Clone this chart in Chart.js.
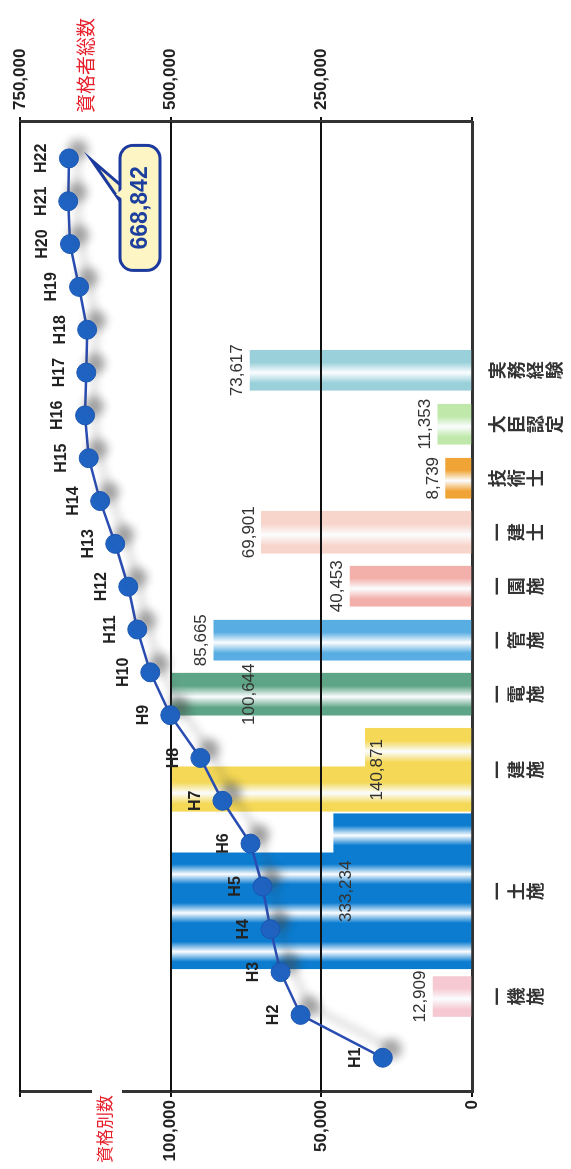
<!DOCTYPE html>
<html lang="ja">
<head>
<meta charset="utf-8">
<title>資格者総数と資格別数</title>
<script src="https://cdn.jsdelivr.net/npm/chart.js@4.4.1/dist/chart.umd.min.js"></script>
<style>
  html, body { margin: 0; padding: 0; background: #fff; overflow: hidden; }
  /* the chart is laid out landscape and turned a quarter turn to the left */
  #wrap {
    position: absolute; left: 0; top: 0;
    width: 1169px; height: 571px;
    transform-origin: 0 0;
    transform: translate(0, 1169px) rotate(-90deg);
  }
</style>
</head>
<body>
<div id="wrap"><canvas id="chart" width="1169" height="571"></canvas></div>
<script>
// 資格者総数 by year (right axis)
const years = ['H1', 'H2', 'H3', 'H4', 'H5', 'H6', 'H7', 'H8', 'H9', 'H10', 'H11',
  'H12', 'H13', 'H14', 'H15', 'H16', 'H17', 'H18', 'H19', 'H20', 'H21', 'H22'];
const totals = [148000, 284400, 317600, 334300, 347600, 367500, 414100, 450700, 500600,
  533800, 555400, 570400, 592000, 617000, 636000, 642000, 640000, 638600, 652000,
  667000, 670000, 668842];

// 資格別数 (left axis)
const quals = ['一機施', '一土施', '一建施', '一電施', '一管施', '一園施', '一建士', '技術士', '大臣認定', '実務経験'];
const qualCounts = [12909, 333234, 140871, 100644, 85665, 40453, 69901, 8739, 11353, 73617];

const countTicks = [0, 50000, 100000, 150000];
const countTickLabels = ['0', '50,000', '100,000', ''];
const totalTicks = [0, 250000, 500000, 750000];
const totalTickLabels = ['', '250,000', '500,000', '750,000'];

// ---- look ----
const LATIN = '"Liberation Sans", Arial, sans-serif';
const CJK = '"Noto Sans CJK JP", "Noto Sans", sans-serif';
const barColors = ['#f6c9d2', '#0b7cd0', '#f4d856', '#5ea486', '#58ade2', '#f3b0aa',
  '#f8d5cb', '#f0a436', '#bfe8aa', '#99d0da'];
const barSlots = [1.2, 2.7, 1.8, 1, 1, 1, 1, 1, 1, 1];   // room per bar along the axis
const barPx = [40, 155, 83, 42, 40, 40, 42, 40, 40, 40];
const breakAt = 100000;                                   // taller bars are cut here
const breakStyle = {
  '一土施': { notchTo: 46000, notch: 0.25 },
  '一建施': { notchTo: 35500, notch: 0.46 },
  '一電施': { notchTo: 78000, notch: 0 }
};

const slotCenters = [];
barSlots.reduce((start, w) => { slotCenters.push(start + w / 2); return start + w; }, 0);

function stripes(chart, i) {
  if (!chart.chartArea) return barColors[i];
  const cx = chart.scales.xq.getPixelForValue(slotCenters[i]);
  const w = barPx[i];
  const g = chart.ctx.createLinearGradient(cx - w / 2, 0, cx + w / 2, 0);
  const n = Math.max(1, Math.round(w / 40));
  for (let k = 0; k < n; k++) {
    g.addColorStop(k / n, barColors[i]);
    g.addColorStop((k + 0.18) / n, barColors[i]);
    g.addColorStop((k + 0.44) / n, '#fbfdff');
    g.addColorStop((k + 0.7) / n, barColors[i]);
    g.addColorStop((k + 1) / n, barColors[i]);
  }
  return g;
}

const barSets = quals.map((q, i) => ({
  type: 'bar',
  label: q,
  data: [{ x: slotCenters[i], y: qualCounts[i] }],
  xAxisID: 'xq',
  yAxisID: 'yq',
  barThickness: barPx[i],
  grouped: false,
  order: 1,
  backgroundColor: ctx => stripes(ctx.chart, i)
}));

const lineSet = {
  type: 'line',
  label: '資格者総数',
  data: totals.map((v, i) => ({ x: i, y: v })),
  xAxisID: 'xl',
  yAxisID: 'yt',
  borderColor: '#2a4db2',
  borderWidth: 2.5,
  pointRadius: 9.5,
  pointBackgroundColor: '#1f63c3',
  pointBorderColor: '#1b56b0',
  pointBorderWidth: 1,
  order: 0
};

// bars over the break value stop at the break line
const barBreak = {
  id: 'barBreak',
  afterDatasetsUpdate(chart) {
    const yq = chart.scales.yq;
    chart.data.datasets.forEach((ds, i) => {
      if (ds.type !== 'bar') return;
      chart.getDatasetMeta(i).data.forEach((el, j) => {
        if (ds.data[j].y > breakAt) el.y = yq.getPixelForValue(breakAt);
      });
    });
  }
};

const decorations = {
  id: 'decorations',
  beforeDatasetDraw(chart, args) {
    if (args.meta.type !== 'line') return;
    const { ctx, chartArea, scales: { yq } } = chart;

    // white notches on the cut bars
    quals.forEach((q, i) => {
      const st = breakStyle[q];
      if (!st || !st.notch) return;
      const el = chart.getDatasetMeta(i).data[0];
      const right = el.x + el.width / 2;
      const w = el.width * st.notch;
      const yBot = yq.getPixelForValue(st.notchTo);
      ctx.fillStyle = '#fff';
      ctx.fillRect(right - w, el.y - 2, w + 1, yBot - el.y + 2);
    });

    // grid lines run over the bars
    ctx.save();
    ctx.strokeStyle = '#111';
    ctx.lineWidth = 2;
    countTicks.slice(1).forEach(v => {
      const y = Math.round(yq.getPixelForValue(v));
      ctx.beginPath();
      ctx.moveTo(chartArea.left, y);
      ctx.lineTo(chartArea.right, y);
      ctx.stroke();
    });
    ctx.restore();

    // value labels
    ctx.save();
    ctx.fillStyle = '#333';
    ctx.font = '17px ' + LATIN;
    ctx.textAlign = 'center';
    quals.forEach((q, i) => {
      const el = chart.getDatasetMeta(i).data[0];
      const text = qualCounts[i].toLocaleString('en-US');
      const st = breakStyle[q];
      if (st) {
        ctx.textBaseline = 'top';
        ctx.fillText(text, el.x, yq.getPixelForValue(st.notchTo) + 4);
      } else {
        ctx.textBaseline = 'bottom';
        ctx.fillText(text, el.x, el.y - 4);
      }
    });
    ctx.restore();

    // soft shadow under the line markers
    ctx.save();
    ctx.shadowColor = 'rgba(70,70,70,0.45)';
    ctx.shadowBlur = 8;
    ctx.shadowOffsetX = 9;
    ctx.shadowOffsetY = 9;
  },
  afterDatasetDraw(chart, args) {
    if (args.meta.type !== 'line') return;
    const ctx = chart.ctx;
    ctx.restore();

    const pts = args.meta.data;
    ctx.save();
    ctx.fillStyle = '#222';
    ctx.font = 'bold 16px ' + LATIN;
    ctx.textAlign = 'center';
    ctx.textBaseline = 'middle';
    pts.forEach((p, i) => ctx.fillText(years[i], p.x, p.y - 27));

    // callout for the latest total
    const p = pts[pts.length - 1];
    const bx = p.x - 112, by = p.y + 51, bw = 125, bh = 40;
    ctx.lineWidth = 3;
    ctx.strokeStyle = '#1c3a9e';
    ctx.fillStyle = '#fdf6c4';
    ctx.beginPath();
    ctx.moveTo(p.x - 44, by + 1);
    ctx.lineTo(p.x - 2, p.y + 23);
    ctx.lineTo(p.x - 27, by + 1);
    ctx.closePath();
    ctx.fill();
    ctx.stroke();
    ctx.beginPath();
    ctx.roundRect(bx, by, bw, bh, 13);
    ctx.fill();
    ctx.stroke();
    ctx.beginPath();
    ctx.moveTo(p.x - 41, by + 3);
    ctx.lineTo(p.x - 30, by + 3);
    ctx.lineTo(p.x - 36, by - 4);
    ctx.closePath();
    ctx.fill();
    ctx.fillStyle = '#1d3f9e';
    ctx.font = 'bold 23px ' + LATIN;
    ctx.fillText(totals[totals.length - 1].toLocaleString('en-US'), bx + bw / 2, by + bh / 2 + 1);
    ctx.restore();
  },
  afterDraw(chart) {
    const { ctx, chartArea } = chart;
    ctx.save();
    ctx.fillStyle = '#fff';
    ctx.fillRect(chartArea.left - 4, chartArea.top + 72, 8, 30);
    ctx.fillStyle = '#e8202c';
    ctx.textBaseline = 'middle';
    ctx.font = '17px ' + CJK;
    ctx.textAlign = 'right';
    ctx.fillText('資格別数', chartArea.left - 3, chartArea.top + 85);
    ctx.font = '19px ' + CJK;
    ctx.textAlign = 'left';
    ctx.fillText('資格者総数', chartArea.right + 9, chartArea.top + 66);
    ctx.restore();
  }
};

const tickFont = { family: LATIN, size: 17, weight: 'bold' };

new Chart(document.getElementById('chart'), {
  data: { datasets: [...barSets, lineSet] },
  options: {
    responsive: false,
    animation: false,
    devicePixelRatio: 1,
    layout: { padding: { top: 20 } },
    scales: {
      xq: {
        type: 'linear',
        position: 'bottom',
        min: -0.27,
        max: 15.9,
        afterBuildTicks: s => { s.ticks = slotCenters.map(value => ({ value })); },
        afterFit: s => { s.height = 99; },
        grid: { display: true, drawOnChartArea: false, drawTicks: false },
        border: { color: '#333', width: 3 },
        ticks: {
          autoSkip: false,
          maxRotation: 0,
          minRotation: 0,
          padding: 16,
          color: '#333',
          font: { family: CJK, size: 18, weight: 'bold', lineHeight: 1.05 },
          callback: (v, i) => quals[i].split('')
        }
      },
      xl: { type: 'linear', display: false, min: -0.8, max: 21.85 },
      yq: {
        type: 'linear',
        position: 'left',
        min: 0,
        max: 150000,
        afterBuildTicks: s => { s.ticks = countTicks.map(value => ({ value })); },
        afterFit: s => { s.width = 77; },
        grid: { color: '#111', lineWidth: 2, tickLength: 5 },
        border: { color: '#333', width: 3 },
        ticks: { padding: 3, color: '#222', font: tickFont, callback: (v, i) => countTickLabels[i] }
      },
      yt: {
        type: 'linear',
        position: 'right',
        min: 0,
        max: 750000,
        afterBuildTicks: s => { s.ticks = totalTicks.map(value => ({ value })); },
        afterFit: s => { s.width = 122; },
        grid: { drawOnChartArea: false, color: '#111', lineWidth: 2, tickLength: 5 },
        border: { color: '#333', width: 3 },
        ticks: { padding: 7, color: '#222', font: tickFont, callback: (v, i) => totalTickLabels[i] }
      }
    },
    plugins: {
      legend: { display: false },
      tooltip: { enabled: false }
    }
  },
  plugins: [barBreak, decorations]
});
</script>
</body>
</html>
